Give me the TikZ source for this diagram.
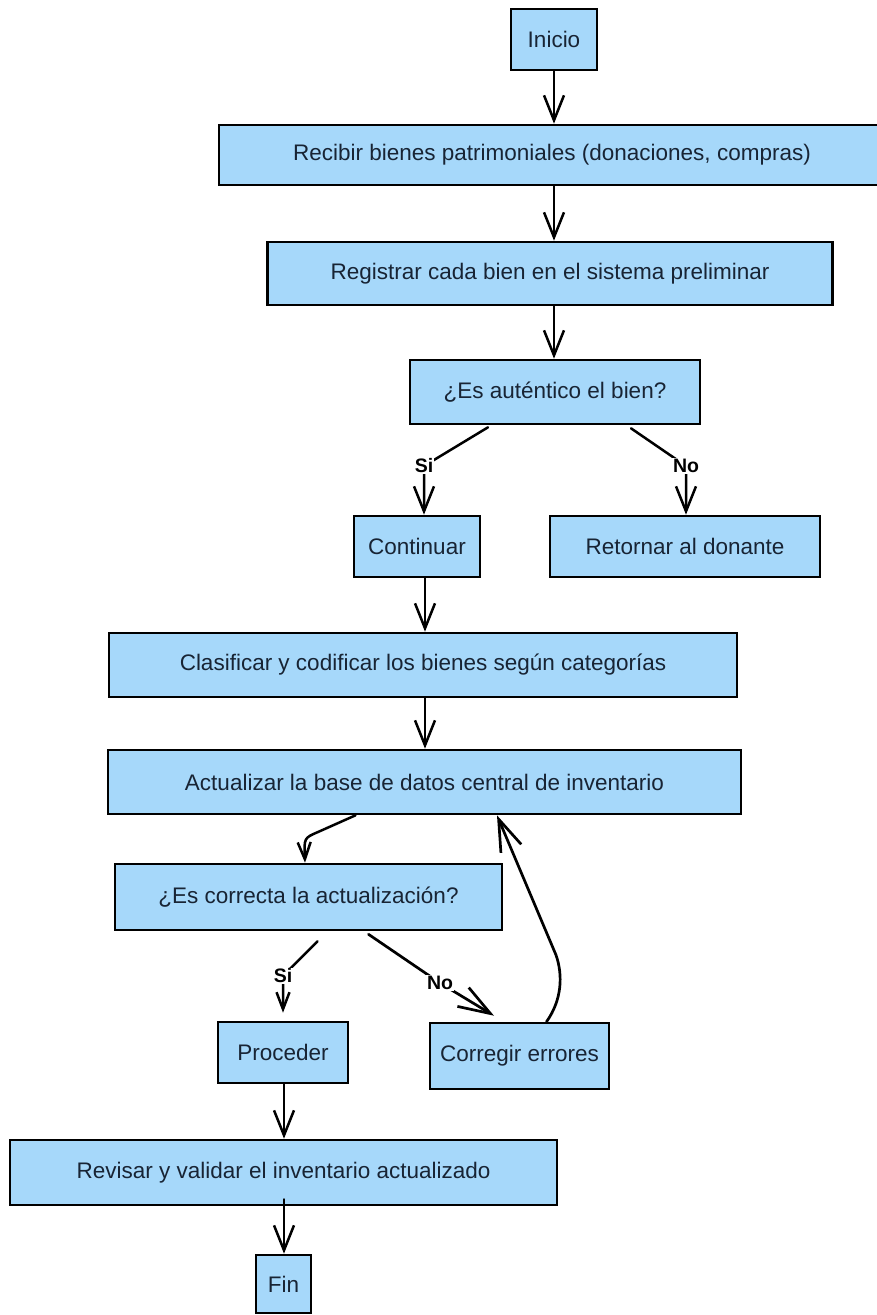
\documentclass[tikz,border=0pt]{standalone}
\usepackage{fontspec}
\setmainfont{Liberation Sans}
\usetikzlibrary{arrows.meta}

\definecolor{boxblue}{RGB}{166,216,250}
\definecolor{ink}{RGB}{24,36,52}

\tikzset{
  box/.style={rectangle, draw=black, line width=2.6pt, fill=boxblue, text=ink,
    font=\fontsize{22.5}{26}\selectfont, inner sep=2pt},
  flow/.style={draw=black, line width=2.5pt, line cap=round,
    -{Straight Barb[length=25pt,width=20pt]}},
  smallflow/.style={draw=black, line width=2.5pt, line cap=round,
    -{Straight Barb[length=17pt,width=13pt]}},
  bigflow/.style={draw=black, line width=2.7pt, line cap=round,
    -{Straight Barb[length=32pt,width=22pt]}},
  lbl/.style={fill=white, inner sep=1pt, text=black,
    font=\bfseries\fontsize{19.5}{21}\selectfont}
}

\begin{document}
\begin{tikzpicture}[x=1pt,y=-1pt]
  \useasboundingbox (0,0) rectangle (877,1315);
  \fill[white] (0,0) rectangle (877,1315);

  % process steps
  \node[box, minimum width=86pt,  minimum height=61pt] (inicio)     at (554,39.5)   {Inicio};
  \node[box, minimum width=666pt, minimum height=60pt] (recibir)    at (552,155)    {Recibir bienes patrimoniales (donaciones, compras)};
  \node[box, minimum width=565pt, minimum height=63pt] (registrar)  at (550,273.5)  {Registrar cada bien en el sistema preliminar};
  \node[box, minimum width=290pt, minimum height=64pt] (autentico)  at (555,392)    {¿Es auténtico el bien?};
  \node[box, minimum width=126pt, minimum height=61pt] (continuar)  at (417,546.5)  {Continuar};
  \node[box, minimum width=270pt, minimum height=61pt] (retornar)   at (685,546.5)  {Retornar al donante};
  \node[box, minimum width=628pt, minimum height=64pt] (clasificar) at (423,665)    {Clasificar y codificar los bienes según categorías};
  \node[box, minimum width=633pt, minimum height=64pt] (actualizar) at (424.5,782)  {Actualizar la base de datos central de inventario};
  \node[box, minimum width=387pt, minimum height=66pt] (correcta)   at (308.5,897)  {¿Es correcta la actualización?};
  \node[box, minimum width=130pt, minimum height=61pt] (proceder)   at (283,1052.5) {Proceder};
  \node[box, minimum width=179pt, minimum height=66pt] (corregir)   at (519.5,1056) {Corregir errores};
  \node[box, minimum width=547pt, minimum height=65pt] (revisar)    at (283.5,1172.5) {Revisar y validar el inventario actualizado};
  \node[box, minimum width=55pt,  minimum height=58pt] (fin)        at (283.5,1284) {Fin};

  % straight connectors
  \draw[flow] (inicio.south) -- ([xshift=2pt]recibir.north);
  \draw[flow] ([xshift=2pt]recibir.south) -- ([xshift=4pt]registrar.north);
  \draw[flow] ([xshift=4pt]registrar.south) -- ([xshift=-1pt]autentico.north);

  % first decision
  \draw[flow] ([xshift=-67pt,yshift=-2pt]autentico.south) -- (424,466) node[lbl] {Si}
              -- ([xshift=7pt]continuar.north);
  \draw[flow] ([xshift=76pt,yshift=-3pt]autentico.south) -- (686,466) node[lbl] {No}
              -- ([xshift=1pt]retornar.north);

  \draw[flow] ([xshift=8pt]continuar.south) -- ([xshift=2pt]clasificar.north);
  \draw[flow] ([xshift=2pt]clasificar.south) -- ([xshift=0.5pt]actualizar.north);

  % into the second decision
  \draw[smallflow] ([xshift=-69pt]actualizar.south) -- (318,832)
                   .. controls (304,838) .. ([xshift=-3.5pt]correcta.north);

  % second decision
  \draw[smallflow] ([xshift=9pt,yshift=-10pt]correcta.south) -- (283,976) node[lbl] {Si}
                   -- ([yshift=8pt]proceder.north);
  \draw[bigflow] ([xshift=60pt,yshift=-3pt]correcta.south) -- (440,983) node[lbl] {No}
                 -- ([xshift=-25.5pt,yshift=6pt]corregir.north);

  % loop back after correcting
  \draw[bigflow] ([xshift=27pt]corregir.north) .. controls (562,1000) and (563,975)
                 .. (556,955) -- ([xshift=72.5pt]actualizar.south);

  % closing steps
  \draw[flow] ([xshift=1pt]proceder.south) -- ([xshift=0.5pt]revisar.north);
  \draw[flow] ([xshift=0.5pt,yshift=7pt]revisar.south) -- ([xshift=0.5pt]fin.north);
\end{tikzpicture}
\end{document}
